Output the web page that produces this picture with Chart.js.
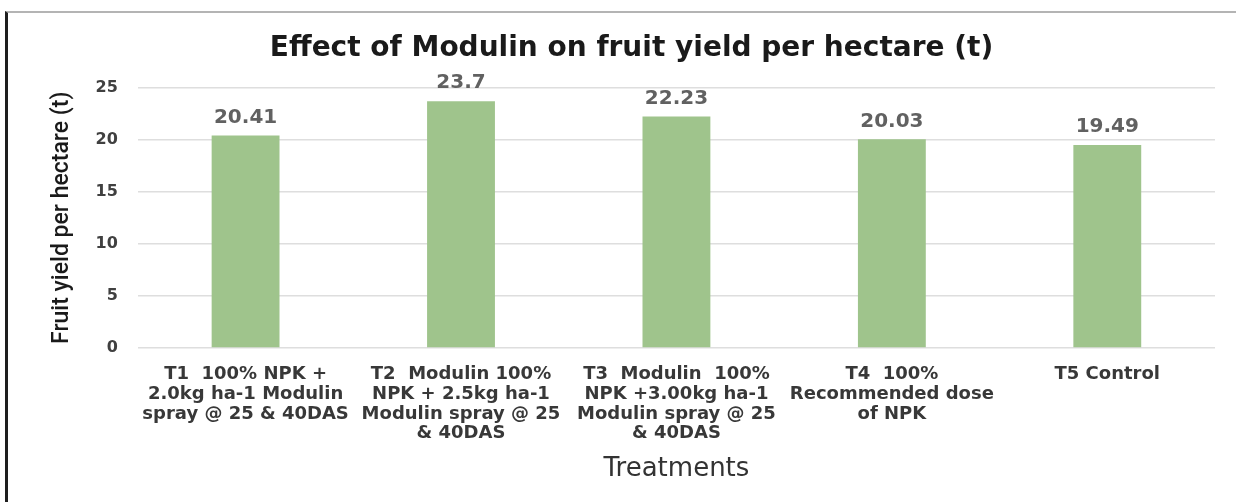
<!DOCTYPE html>
<html>
<head>
<meta charset="utf-8">
<script src="https://cdn.jsdelivr.net/npm/chart.js@4.4.1/dist/chart.umd.min.js"></script>
<style>
  html, body { margin: 0; padding: 0; background: #fff; }
  body { width: 1236px; height: 502px; position: relative; overflow: hidden; }
  #frame {
    position: absolute; left: 5px; top: 11px; width: 1231px; height: 491px;
    border-left: 3px solid #1e1e1e; border-top: 2px solid #b4b4b4;
  }
  #wrap { position: absolute; left: 0; top: 0; width: 1228px; height: 489px; }
</style>
</head>
<body>
<div id="frame"><div id="wrap"><canvas id="myChart"></canvas></div></div>
<script>
// ***** data *****
const categories = [
  ["T1  100% NPK +", "2.0kg ha-1 Modulin", "spray @ 25 & 40DAS"],
  ["T2  Modulin 100%", "NPK + 2.5kg ha-1", "Modulin spray @ 25", "& 40DAS"],
  ["T3  Modulin  100%", "NPK +3.00kg ha-1", "Modulin spray @ 25", "& 40DAS"],
  ["T4  100%", "Recommended dose", "of NPK"],
  ["T5 Control"]
]
const yieldValues = [20.41, 23.7, 22.23, 20.03, 19.49]
const valueLabels = ["20.41", "23.7", "22.23", "20.03", "19.49"]
const yTicks = [0, 5, 10, 15, 20, 25]

// ***** value labels above bars *****
const barLabels = {
  id: "barLabels",
  afterDatasetsDraw(chart) {
    const ctx = chart.ctx
    const meta = chart.getDatasetMeta(0)
    ctx.save()
    ctx.font = "bold 20px 'DejaVu Sans'"
    ctx.fillStyle = "#616161"
    ctx.textAlign = "center"
    ctx.textBaseline = "middle"
    meta.data.forEach((bar, i) => {
      ctx.fillText(valueLabels[i], bar.x, bar.y - 18)
    })
    ctx.restore()
  }
}

const ctx = document.getElementById("myChart").getContext("2d")
const myChart = new Chart(ctx, {
  type: "bar",
  data: {
    labels: categories,
    datasets: [{
      data: yieldValues,
      backgroundColor: "#9fc48c",
      borderWidth: 0,
      barPercentage: 1,
      categoryPercentage: 0.315
    }]
  },
  options: {
    responsive: true,
    maintainAspectRatio: false,
    animation: false,
    layout: { padding: { left: 40, right: 21, top: 0, bottom: 10 } },
    plugins: {
      legend: { display: false },
      tooltip: { enabled: false },
      title: {
        display: true,
        text: "Effect of Modulin on fruit yield per hectare (t)",
        color: "#1a1a1a",
        font: { family: "'DejaVu Sans'", size: 28, weight: "bold" },
        padding: { top: 19, bottom: 22 }
      }
    },
    scales: {
      x: {
        grid: { display: false },
        border: { display: false },
        ticks: {
          color: "#383838",
          font: { family: "'DejaVu Sans'", size: 18, weight: "bold", lineHeight: 1.11 },
          maxRotation: 0,
          minRotation: 0,
          autoSkip: false,
          padding: 8
        },
        title: {
          display: true,
          text: "Treatments",
          color: "#333",
          font: { family: "'DejaVu Sans'", size: 26 },
          padding: { top: 2, bottom: 7 }
        }
      },
      y: {
        min: 0,
        max: 25,
        afterBuildTicks: axis => {
          axis.ticks = yTicks.map(v => ({ value: v }))
        },
        grid: { color: "#dedede", lineWidth: 1.5, drawTicks: false },
        border: { display: false },
        ticks: {
          color: "#404040",
          font: { family: "'DejaVu Sans'", size: 16, weight: "bold" },
          padding: 20
        },
        title: {
          display: true,
          text: "Fruit yield per hectare (t)",
          color: "#1a1a1a",
          font: { family: "Roboto", size: 23, weight: "500" },
          padding: { top: 0, bottom: 0 }
        }
      }
    }
  },
  plugins: [barLabels]
})
</script>
</body>
</html>
